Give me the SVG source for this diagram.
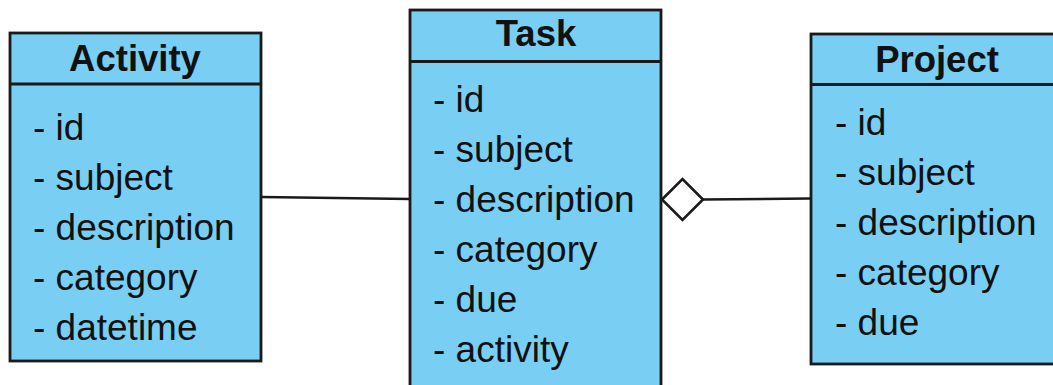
<svg xmlns="http://www.w3.org/2000/svg" width="1053" height="385" viewBox="0 0 1053 385">
  <style>
    .box { fill: #79cef3; stroke: #1a1a1a; stroke-width: 2.8; }
    .div { stroke: #1a1a1a; stroke-width: 2.8; }
    .title { font-family: "Liberation Sans", Arial, sans-serif; font-weight: bold; font-size: 36.5px; fill: #111; text-anchor: middle; }
    .item { font-family: "Liberation Sans", Arial, sans-serif; font-size: 37px; fill: #111; }
    .conn { fill: none; stroke: #1a1a1a; stroke-width: 2.6; }
  </style>
  <rect width="1053" height="385" fill="#ffffff"/>

  <!-- connectors -->
  <g id="connectors">
    <path class="conn" d="M261 197 L410 199"/>
    <path class="conn" d="M703 199.5 L810 198.5"/>
    <polygon class="conn" style="fill:#ffffff" points="662,199.5 682.5,179 703,199.5 682.5,220"/>
  </g>

  <!-- Activity class -->
  <g id="activity">
    <rect class="box" x="10" y="33" width="251" height="328"/>
    <line class="div" x1="10" y1="84" x2="261" y2="84"/>
    <text class="title" x="135" y="71">Activity</text>
    <text class="item" x="33" y="140">- id</text>
    <text class="item" x="33" y="190">- subject</text>
    <text class="item" x="33" y="240">- description</text>
    <text class="item" x="33" y="290">- category</text>
    <text class="item" x="33" y="340">- datetime</text>
  </g>

  <!-- Task class -->
  <g id="task">
    <rect class="box" x="410" y="10" width="251" height="390"/>
    <line class="div" x1="410" y1="61.5" x2="661" y2="61.5"/>
    <text class="title" x="536" y="46">Task</text>
    <text class="item" x="433" y="112">- id</text>
    <text class="item" x="433" y="162">- subject</text>
    <text class="item" x="433" y="212">- description</text>
    <text class="item" x="433" y="262">- category</text>
    <text class="item" x="433" y="312">- due</text>
    <text class="item" x="433" y="362">- activity</text>
  </g>

  <!-- Project class -->
  <g id="project">
    <rect class="box" x="811" y="34" width="251" height="330"/>
    <line class="div" x1="811" y1="84.5" x2="1062" y2="84.5"/>
    <text class="title" x="937" y="72">Project</text>
    <text class="item" x="835" y="135">- id</text>
    <text class="item" x="835" y="185">- subject</text>
    <text class="item" x="835" y="235">- description</text>
    <text class="item" x="835" y="285">- category</text>
    <text class="item" x="835" y="335">- due</text>
  </g>
</svg>
